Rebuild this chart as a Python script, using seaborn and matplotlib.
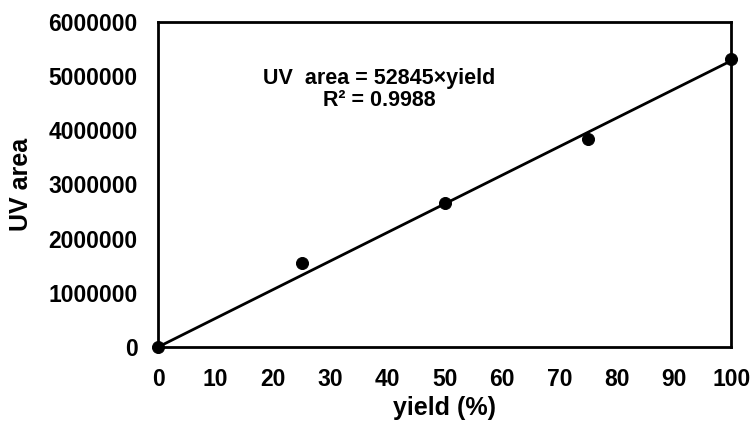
import numpy as np
import pandas as pd
import matplotlib
matplotlib.use("Agg")
import matplotlib.pyplot as plt
import seaborn as sns

# data
yield_pct = [0, 25, 50, 75, 100]
uv_area = [0, 1540000, 2660000, 3840000, 5310000]
slope = 52845
r2 = 0.9988

x_ticks = list(range(0, 101, 10))
y_ticks = list(range(0, 6000001, 1000000))

df = pd.DataFrame({"yield": yield_pct, "UV area": uv_area})
fit = pd.DataFrame({"yield": [0, 100]})
fit["UV area"] = slope * fit["yield"]

sns.set_style("white")
plt.rcParams["font.family"] = ["Liberation Sans", "DejaVu Sans"]
plt.rcParams["font.weight"] = "bold"
plt.rcParams["text.color"] = "black"
plt.rcParams["axes.labelcolor"] = "black"

fig, ax = plt.subplots(figsize=(7.54, 4.21), dpi=100)
fig.subplots_adjust(left=0.21, right=0.97, bottom=0.176, top=0.948)

sns.lineplot(data=fit, x="yield", y="UV area", color="black", linewidth=2, ax=ax)
sns.scatterplot(data=df, x="yield", y="UV area", color="black", s=75,
                edgecolor="black", zorder=3, clip_on=False, ax=ax)

ax.set_xlim(0, 100)
ax.set_ylim(0, 6000000)
ax.set_xticks(x_ticks)
ax.set_yticks(y_ticks)
ax.set_xticklabels([str(t) for t in x_ticks])
ax.set_yticklabels([str(t) for t in y_ticks])
ax.tick_params(direction="in", length=6, width=2, labelsize=16.5, colors="black",
               labelcolor="black", pad=15)
for lab in ax.get_xticklabels() + ax.get_yticklabels():
    lab.set_fontweight("bold")
for sp in ax.spines.values():
    sp.set_linewidth(2)
    sp.set_color("black")

ax.set_xlabel("yield (%)", fontsize=18, fontweight="bold", labelpad=4, color="black")
ax.set_ylabel("UV area", fontsize=18, fontweight="bold", labelpad=11, color="black")

ax.text(38.6, 4950000, "UV  area = %d\u00d7yield" % slope, ha="center", va="center",
        fontsize=15.5, fontweight="bold", color="black")
ax.text(38.6, 4540000, "R\u00b2 = %.4f" % r2, ha="center", va="center",
        fontsize=15.5, fontweight="bold", color="black")

fig.savefig("out.png", dpi=100)
